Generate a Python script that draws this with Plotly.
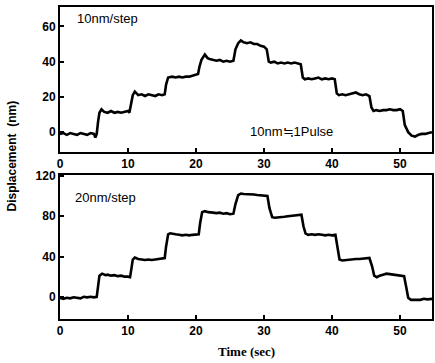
import plotly.graph_objects as go

# Top panel (10 nm/step)
t_top = [0.0,0.5,1.0,1.5,2.0,2.5,3.0,3.5,4.0,4.5,5.0,5.2,5.4,5.6,5.8,6.1,6.5,7.0,7.5,8.0,8.5,9.0,9.5,10.0,10.2,10.5,10.7,11.0,11.5,12.0,12.5,13.0,13.5,14.0,14.5,15.0,15.4,15.6,15.9,16.5,17.0,17.5,18.0,18.5,19.0,19.5,20.0,20.3,20.5,20.8,21.3,21.7,22.0,22.5,23.0,23.5,24.0,24.5,25.0,25.5,25.8,26.2,26.6,27.0,27.5,28.0,28.5,29.0,29.5,30.0,30.4,30.7,31.0,31.5,32.0,32.5,33.0,33.5,34.0,34.5,35.0,35.4,35.7,36.0,36.5,37.0,37.5,38.0,38.5,39.0,39.5,40.0,40.4,40.7,41.0,41.5,42.0,42.5,43.0,43.5,44.0,44.5,45.0,45.5,45.8,46.1,46.5,47.0,47.5,48.0,48.5,49.0,49.5,50.0,50.4,50.7,51.2,51.7,52.2,52.7,53.2,53.7,54.2,54.7]
d_top = [-1,-0.5,-1.5,-0.5,-1,-1.5,-0.5,-1,-1.5,-0.5,-1,-3,-1,6,11,13,11.5,11,12,11,11.5,11,11.5,12,11,18,21,23,21,21.5,20.5,21.5,21,20.5,21.5,21,21.5,27,31,31.5,31,31.5,31,31.5,31.5,32,32.5,33,37,41,44,42,41.5,41,40.5,41,40,40.5,40,40.5,47,50.5,52,51,50.5,51,50,50,49,48.5,47,40,39.5,40,39,39.5,39,39.5,39,39.5,39,38.5,31,30,30.5,30,30.5,31,30,30.5,30,30.5,30,22,21,21.5,21,21.5,22,22.5,21.5,21,21.5,20.5,14,12,12.5,12,12.5,12.5,13,12.5,12.5,13,12,4,0,-2,-2.5,-1.5,-1,-1,-0.5,0]

# Bottom panel (20 nm/step)
t_bot = [0.0,0.5,1.0,1.5,2.0,2.5,3.0,3.5,4.0,4.5,5.0,5.4,5.6,5.8,6.2,6.7,7.0,7.5,8.0,8.5,9.0,9.5,10.0,10.3,10.5,10.7,11.0,11.5,12.0,12.5,13.0,13.5,14.0,14.5,15.0,15.4,15.6,15.9,16.2,16.7,17.0,17.5,18.0,18.5,19.0,19.5,20.0,20.4,20.6,20.9,21.3,21.8,22.5,23.0,23.5,24.0,24.5,25.0,25.5,25.8,26.2,26.6,27.0,27.5,28.0,28.5,29.0,29.5,30.0,30.5,30.8,31.2,31.6,32.0,32.5,33.0,33.5,34.0,34.5,35.0,35.5,35.8,36.1,36.5,37.0,37.5,38.0,38.5,39.0,39.5,40.0,40.5,40.8,41.1,41.5,42.0,42.5,43.0,43.5,44.0,44.5,45.0,45.5,45.9,46.2,46.6,47.0,47.5,48.0,48.5,49.0,49.5,50.0,50.6,50.9,51.2,51.6,52.0,52.5,53.0,53.5,54.0,54.7]
d_bot = [-1,-2,-1,-1.5,-0.5,-1,-1.5,0,-0.5,0,-0.5,0,10,21,23,21.5,22,21,21.5,20.5,21,20,20,19.5,28,37,39,37.5,37,36.5,37,36.5,37,37.5,38,38.5,50,62,63,62,62,61.5,61,61.5,61,61.5,62,62,73,84,85,84,83.5,83,83.5,82.5,83,82,82.5,92,101,102.5,102,102,101.5,101.5,101,100.5,100.5,100,88,79,78.5,79,79.5,79.5,80,80.5,80.5,81,81.5,70,63,61.5,62,61.5,62,61.5,61,61.5,61,61.5,48,37,36,36.5,37,37,37.5,37.5,38,38.5,38.5,30,21,19.5,21,22,23,22.5,22,21.5,21,20.5,10,-1,-3,-3,-2.5,-3,-2,-2.5,-2]

x_ticks = [0, 10, 20, 30, 40, 50]
y_ticks_top = [0, 20, 40, 60]
y_ticks_bot = [0, 40, 80, 120]

fig = go.Figure()
fig.add_trace(go.Scatter(x=t_top, y=d_top, mode="lines", line=dict(color="black", width=2.6),
                         xaxis="x", yaxis="y", showlegend=False))
fig.add_trace(go.Scatter(x=t_bot, y=d_bot, mode="lines", line=dict(color="black", width=2.6),
                         xaxis="x2", yaxis="y2", showlegend=False))

tickfont = dict(family="Liberation Sans", size=12, color="black", weight="bold")
axis_common = dict(showline=True, linecolor="black", linewidth=2, mirror=True,
                   ticks="inside", ticklen=4, tickwidth=1.5, tickcolor="black",
                   showgrid=False, zeroline=False, tickfont=tickfont)

fig.update_layout(
    width=435, height=363,
    margin=dict(l=60, r=1, t=5, b=44),
    paper_bgcolor="white", plot_bgcolor="white",
    xaxis=dict(domain=[0, 1], anchor="y", range=[0, 54.7], tickvals=x_ticks, **axis_common),
    yaxis=dict(domain=[0.535, 1], anchor="x", range=[-11.3, 71], tickvals=y_ticks_top, **axis_common),
    xaxis2=dict(domain=[0, 1], anchor="y2", range=[0, 54.7], tickvals=x_ticks, **axis_common),
    yaxis2=dict(domain=[0, 0.462], anchor="x2", range=[-22, 121], tickvals=y_ticks_bot, **axis_common),
    annotations=[
        dict(text="10nm/step", x=2.2, y=64.4, xref="x", yref="y", xanchor="left", yanchor="middle",
             showarrow=False, font=dict(family="Liberation Sans", size=13, color="black")),
        dict(text="10nm\u22521Pulse", x=27.7, y=0.5, xref="x", yref="y", xanchor="left", yanchor="middle",
             showarrow=False, font=dict(family="Liberation Sans", size=13, color="black")),
        dict(text="20nm/step", x=1.9, y=99, xref="x2", yref="y2", xanchor="left", yanchor="middle",
             showarrow=False, font=dict(family="Liberation Sans", size=13, color="black")),
        dict(text="Displacement  (nm)", x=-0.128, y=0.522, xref="paper", yref="paper",
             xanchor="center", yanchor="middle", textangle=-90, showarrow=False,
             font=dict(family="Liberation Sans", size=12, color="black", weight="bold")),
        dict(text="Time (sec)", x=0.501, y=-0.105, xref="paper", yref="paper",
             xanchor="center", yanchor="middle", showarrow=False,
             font=dict(family="Liberation Serif", size=13, color="black", weight="bold")),
    ],
)

fig.write_html("out.html", config={"displayModeBar": False},
               post_script="document.body.style.margin='0';")
